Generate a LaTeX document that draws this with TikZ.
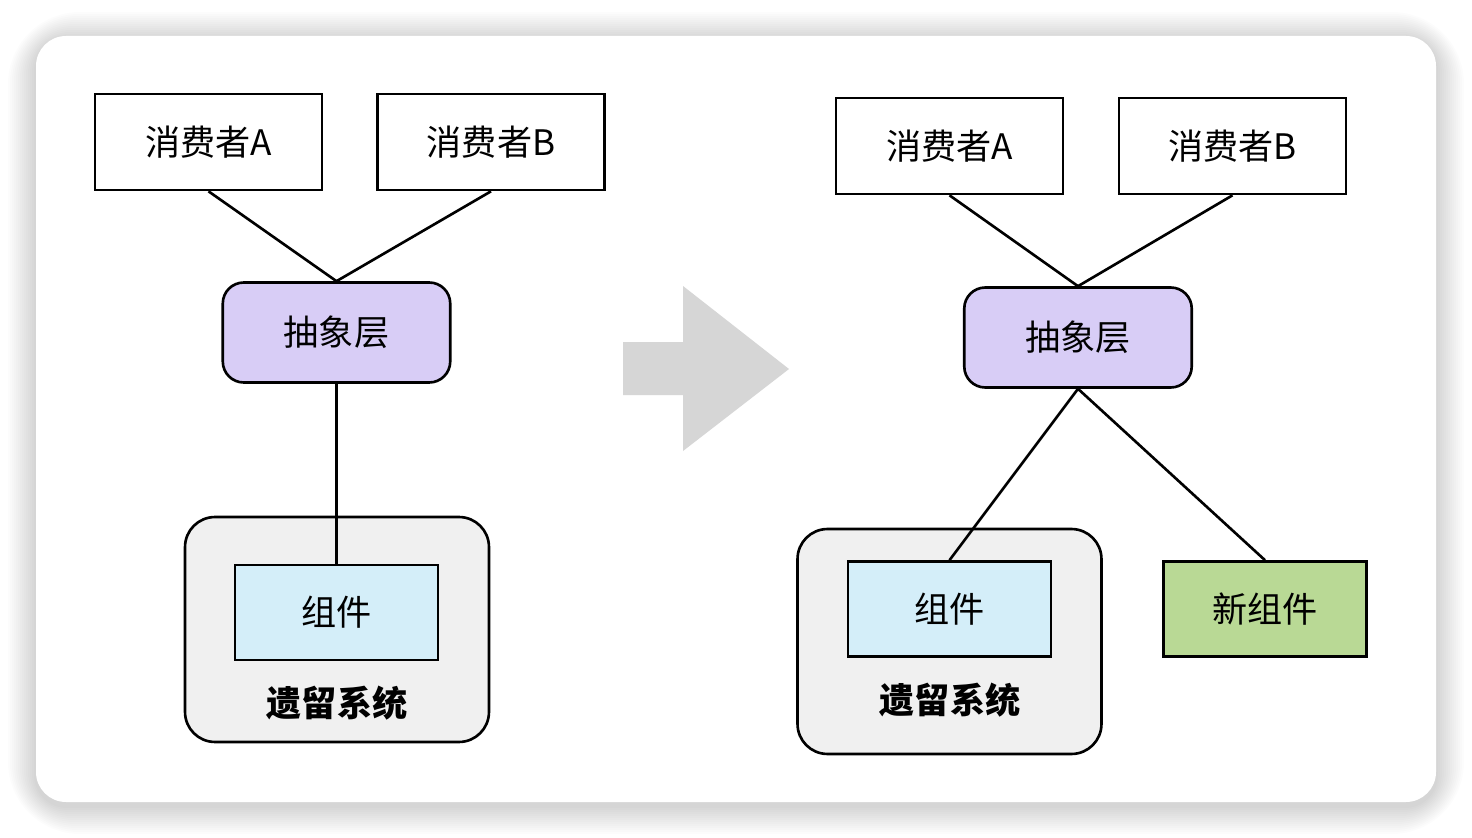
\documentclass[tikz,border=0pt]{standalone}
\usepackage{fontspec}
\newfontfamily\cjk{Noto Sans CJK SC}
\definecolor{absfill}{HTML}{D8CDF6}
\definecolor{legfill}{HTML}{F0F0F0}
\definecolor{compfill}{HTML}{D4EEF9}
\definecolor{newfill}{HTML}{B9D995}
\definecolor{arrowgray}{HTML}{D6D6D6}
\begin{document}
\begin{tikzpicture}
  [x=0.02cm,y=-0.02cm,line width=1.5pt,
   every node/.style={font=\cjk\fontsize{20}{24}\selectfont,inner sep=0pt},
   consumer/.style={draw,rectangle,fill=white,minimum width=4.54cm,minimum height=1.92cm},
   abstract/.style={draw,rectangle,rounded corners=0.42cm,fill=absfill,minimum width=4.55cm,minimum height=2cm},
   legacy/.style={draw,rectangle,rounded corners=0.6cm,fill=legfill,minimum width=6.08cm,minimum height=4.5cm},
   comp/.style={draw,rectangle,fill=compfill,minimum width=4.06cm,minimum height=1.9cm},
   newcomp/.style={draw,rectangle,fill=newfill,minimum width=4.06cm,minimum height=1.9cm},
   legtext/.style={font=\cjk\bfseries\fontsize{20}{24}\selectfont}]
  \useasboundingbox (0,0) rectangle (1472,838);
  \fill[white] (0,0) rectangle (1472,838);
  % soft shadow of the card
  \foreach \s [evaluate=\s as \r using 0.6+0.06*\s] in {1,...,14}
    \fill[black,opacity=0.011,rounded corners=\r cm]
      (36-2*\s,36-2*\s+4) rectangle (1436+2*\s,802+2*\s+4);
  \fill[white,rounded corners=0.6cm] (36,36) rectangle (1436,802);

  % left: before
  \node[legacy] (legL) at (337,629.5) {};
  \node[comp] (compL) at (336.5,612.5) {组件};
  \node[legtext] (legLtxt) at (337,703) {遗留系统};
  \node[consumer] (conAL) at (208.5,142) {消费者A};
  \node[consumer] (conBL) at (491,142) {消费者B};
  \node[abstract] (absL) at (336.5,332.5) {抽象层};

  % arrow
  \fill[arrowgray] (623,342) -- (683,342) -- (683,286) -- (789,369)
    -- (683,451) -- (683,395) -- (623,395) -- cycle;

  % right: after
  \node[legacy] (legR) at (949.5,641.5) {};
  \node[comp] (compR) at (949.5,609) {组件};
  \node[legtext] (legRtxt) at (950,700) {遗留系统};
  \node[newcomp] (newR) at (1265,609) {新组件};
  \node[consumer] (conAR) at (949.5,146) {消费者A};
  \node[consumer] (conBR) at (1232.5,146) {消费者B};
  \node[abstract] (absR) at (1078,337.5) {抽象层};

 \path[-,draw]
    (conAL.south) edge (absL.north)
    (conBL.south) edge (absL.north)
    (absL.south) edge (compL.north)
    (conAR.south) edge (absR.north)
    (conBR.south) edge (absR.north)
    (absR.south) edge (compR.north)
    (absR.south) edge (newR.north)
    ;
\end{tikzpicture}
\end{document}
